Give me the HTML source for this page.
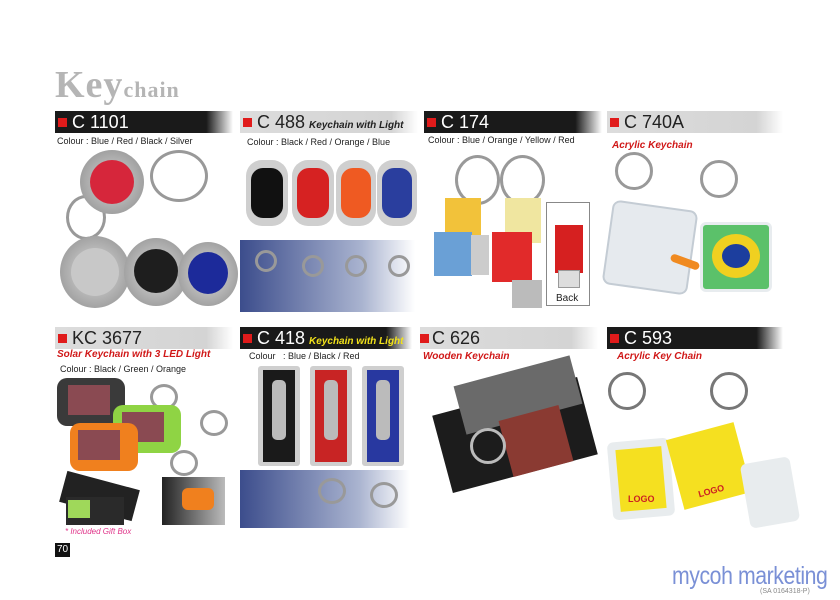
<!DOCTYPE html>
<html><head><meta charset="utf-8"><style>
*{margin:0;padding:0;box-sizing:border-box}
body{width:840px;height:600px;background:#fff;position:relative;overflow:hidden;font-family:"Liberation Sans",sans-serif}
.a{position:absolute}
.bar{position:absolute;height:22px;width:178px}
.dk{background:linear-gradient(90deg,#1a1a1a 0,#1a1a1a 85%,#fff 100%);color:#fff}
.lt{background:linear-gradient(90deg,#dcdcdc 0,#d4d4d4 85%,#fff 100%);color:#222}
.bar .sq{position:absolute;left:3px;top:7px;width:9px;height:9px;background:#e01b1b}
.bar .t{position:absolute;left:17px;top:1px;font-size:18px;white-space:nowrap}
.bar .s{font-size:10px;font-style:italic;font-weight:bold;margin-left:4px}
.col{font-size:9px;color:#222;position:absolute;white-space:nowrap}
.red{color:#d01818;font-style:italic;font-weight:bold;font-size:10px;position:absolute;white-space:nowrap}
.ring{position:absolute;border:3px solid #999;border-radius:50%}
.c{position:absolute;border-radius:50%}
.r{position:absolute;border-radius:6px}
</style></head><body>
<div class="a" style="left:55px;top:66px;font-family:'Liberation Serif',serif;font-weight:bold;color:#b5b5b5;font-size:38px;line-height:38px;letter-spacing:1px">Key<span style="font-size:22px">chain</span></div>

<!-- Row 1 bars -->
<div class="bar dk" style="left:55px;top:111px"><div class="sq"></div><div class="t">C 1101</div></div>
<div class="bar lt" style="left:240px;top:111px"><div class="sq"></div><div class="t">C 488<span class="s">Keychain with Light</span></div></div>
<div class="bar dk" style="left:424px;top:111px"><div class="sq"></div><div class="t">C 174</div></div>
<div class="bar lt" style="left:607px;top:111px;width:176px"><div class="sq"></div><div class="t">C 740A</div></div>
<div class="col" style="left:57px;top:136px">Colour : Blue / Red / Black / Silver</div>
<div class="col" style="left:247px;top:137px">Colour : Black / Red / Orange / Blue</div>
<div class="col" style="left:428px;top:135px">Colour : Blue / Orange / Yellow / Red</div>
<div class="red" style="left:612px;top:140px">Acrylic Keychain</div>

<!-- C1101 -->
<div class="ring" style="left:150px;top:150px;width:58px;height:52px"></div>
<div class="ring" style="left:66px;top:195px;width:40px;height:45px"></div>
<div class="c" style="left:80px;top:150px;width:64px;height:64px;background:radial-gradient(#d7d7d7,#8a8a8a)"></div>
<div class="c" style="left:90px;top:160px;width:44px;height:44px;background:#d6263b"></div>
<div class="c" style="left:60px;top:236px;width:70px;height:72px;background:radial-gradient(#ddd,#8a8a8a)"></div>
<div class="c" style="left:71px;top:248px;width:48px;height:48px;background:#c8c8c8"></div>
<div class="c" style="left:124px;top:238px;width:64px;height:68px;background:radial-gradient(#ddd,#8a8a8a)"></div>
<div class="c" style="left:134px;top:249px;width:44px;height:44px;background:#1e1e1e"></div>
<div class="c" style="left:178px;top:242px;width:60px;height:64px;background:radial-gradient(#ddd,#8a8a8a)"></div>
<div class="c" style="left:188px;top:252px;width:40px;height:42px;background:#1c2a9a"></div>

<!-- C488 -->
<div class="a" style="left:240px;top:240px;width:175px;height:72px;background:linear-gradient(90deg,#3c4d8c,#aab4d0 70%,#fff)"></div>
<div class="r" style="left:246px;top:160px;width:42px;height:66px;background:#cfcfcf;border-radius:16px"></div><div class="r" style="left:251px;top:168px;width:32px;height:50px;background:#111;border-radius:12px"></div>
<div class="r" style="left:292px;top:160px;width:42px;height:66px;background:#cfcfcf;border-radius:16px"></div><div class="r" style="left:297px;top:168px;width:32px;height:50px;background:#d62222;border-radius:12px"></div>
<div class="r" style="left:336px;top:160px;width:40px;height:66px;background:#cfcfcf;border-radius:16px"></div><div class="r" style="left:341px;top:168px;width:30px;height:50px;background:#ef5a22;border-radius:12px"></div>
<div class="r" style="left:377px;top:160px;width:40px;height:66px;background:#cfcfcf;border-radius:16px"></div><div class="r" style="left:382px;top:168px;width:30px;height:50px;background:#2a3e9e;border-radius:12px"></div>
<div class="ring" style="left:255px;top:250px;width:22px;height:22px"></div><div class="ring" style="left:302px;top:255px;width:22px;height:22px"></div><div class="ring" style="left:345px;top:255px;width:22px;height:22px"></div><div class="ring" style="left:388px;top:255px;width:22px;height:22px"></div>

<!-- C174 -->
<div class="ring" style="left:455px;top:155px;width:45px;height:50px"></div>
<div class="ring" style="left:500px;top:155px;width:45px;height:50px"></div>
<div class="a" style="left:445px;top:198px;width:36px;height:45px;background:#f2c23a"></div>
<div class="a" style="left:505px;top:198px;width:36px;height:45px;background:#f0e6a0"></div>
<div class="a" style="left:434px;top:232px;width:38px;height:44px;background:#6aa0d6"></div>
<div class="a" style="left:471px;top:235px;width:18px;height:40px;background:#ccc"></div>
<div class="a" style="left:492px;top:232px;width:40px;height:50px;background:#e12a2a"></div>
<div class="a" style="left:512px;top:280px;width:30px;height:28px;background:#bbb"></div>
<div class="a" style="left:546px;top:202px;width:44px;height:104px;border:1px solid #888;background:#fff"></div>
<div class="a" style="left:555px;top:225px;width:28px;height:48px;background:#d62020"></div>
<div class="a" style="left:558px;top:270px;width:22px;height:18px;background:#ddd;border:1px solid #999"></div>
<div class="a" style="left:556px;top:293px;font-size:10px;color:#222">Back</div>

<!-- C740A -->
<div class="ring" style="left:615px;top:152px;width:38px;height:38px"></div>
<div class="ring" style="left:700px;top:160px;width:38px;height:38px"></div>
<div class="a" style="left:607px;top:205px;width:86px;height:85px;background:#e6eaee;border:2px solid #c4ccd4;transform:rotate(8deg);border-radius:8px"></div>
<div class="a" style="left:700px;top:222px;width:72px;height:70px;background:#5bc16a;border:3px solid #e8ecef;border-radius:6px"></div>
<div class="c" style="left:712px;top:234px;width:48px;height:44px;background:#f0d020"></div>
<div class="c" style="left:722px;top:244px;width:28px;height:24px;background:#1c3e9e"></div>
<div class="a" style="left:670px;top:258px;width:30px;height:8px;background:#f08a20;border-radius:4px;transform:rotate(20deg)"></div>

<!-- Row 2 bars -->
<div class="bar lt" style="left:55px;top:327px"><div class="sq"></div><div class="t">KC 3677</div></div>
<div class="bar dk" style="left:240px;top:327px;width:172px"><div class="sq"></div><div class="t">C 418<span class="s" style="color:#f2e21a">Keychain with Light</span></div></div>
<div class="bar lt" style="left:420px;top:327px"><div class="sq" style="left:0"></div><div class="t" style="left:12px">C 626</div></div>
<div class="bar dk" style="left:607px;top:327px;width:176px"><div class="sq"></div><div class="t">C 593</div></div>
<div class="red" style="left:57px;top:349px">Solar Keychain with 3 LED Light</div>
<div class="col" style="left:60px;top:364px">Colour : Black / Green / Orange</div>
<div class="col" style="left:249px;top:351px">Colour &nbsp;&nbsp;: Blue / Black / Red</div>
<div class="red" style="left:423px;top:351px">Wooden Keychain</div>
<div class="red" style="left:617px;top:351px">Acrylic Key Chain</div>

<!-- KC3677 -->
<div class="r" style="left:57px;top:378px;width:68px;height:48px;background:#3a3a3a;border-radius:10px"></div><div class="a" style="left:68px;top:385px;width:42px;height:30px;background:#8a4a52"></div>
<div class="ring" style="left:150px;top:384px;width:28px;height:26px"></div>
<div class="r" style="left:113px;top:405px;width:68px;height:48px;background:#8fd444;border-radius:10px"></div><div class="a" style="left:122px;top:412px;width:42px;height:30px;background:#8a4a52"></div>
<div class="ring" style="left:200px;top:410px;width:28px;height:26px"></div>
<div class="r" style="left:70px;top:423px;width:68px;height:48px;background:#f0801e;border-radius:10px"></div><div class="a" style="left:78px;top:430px;width:42px;height:30px;background:#8a4a52"></div>
<div class="ring" style="left:170px;top:450px;width:28px;height:26px"></div>
<div class="a" style="left:62px;top:480px;width:75px;height:32px;background:#222;transform:rotate(15deg)"></div>
<div class="a" style="left:66px;top:497px;width:58px;height:28px;background:#2a2a2a"></div>
<div class="a" style="left:68px;top:500px;width:22px;height:18px;background:#9fd85a"></div>
<div class="a" style="left:162px;top:477px;width:63px;height:48px;background:linear-gradient(90deg,#222,#bbb)"></div>
<div class="r" style="left:182px;top:488px;width:32px;height:22px;background:#f0801e"></div>
<div class="a" style="left:65px;top:527px;font-size:8px;font-style:italic;color:#e0358a">* Included Gift Box</div>
<div class="a" style="left:55px;top:543px;width:15px;height:14px;background:#111;color:#fff;font-size:10px;text-align:center;line-height:14px">70</div>

<!-- C418 -->
<div class="a" style="left:240px;top:470px;width:170px;height:58px;background:linear-gradient(90deg,#3c4d8c,#aab4d0 70%,#fff)"></div>
<div class="r" style="left:258px;top:366px;width:42px;height:100px;background:#cfcfcf;border-radius:3px"></div><div class="a" style="left:263px;top:370px;width:32px;height:92px;background:#1a1a1a"></div><div class="a" style="left:272px;top:380px;width:14px;height:60px;background:#bbb;border-radius:5px"></div>
<div class="r" style="left:310px;top:366px;width:42px;height:100px;background:#cfcfcf;border-radius:3px"></div><div class="a" style="left:315px;top:370px;width:32px;height:92px;background:#c82424"></div><div class="a" style="left:324px;top:380px;width:14px;height:60px;background:#bbb;border-radius:5px"></div>
<div class="r" style="left:362px;top:366px;width:42px;height:100px;background:#cfcfcf;border-radius:3px"></div><div class="a" style="left:367px;top:370px;width:32px;height:92px;background:#2838a0"></div><div class="a" style="left:376px;top:380px;width:14px;height:60px;background:#bbb;border-radius:5px"></div>
<div class="ring" style="left:318px;top:478px;width:28px;height:26px"></div><div class="ring" style="left:370px;top:482px;width:28px;height:26px"></div>

<!-- C626 -->
<div class="a" style="left:440px;top:395px;width:150px;height:80px;background:#1c1c1c;transform:rotate(-15deg)"></div>
<div class="a" style="left:458px;top:370px;width:120px;height:50px;background:#6a6a6a;transform:rotate(-15deg)"></div>
<div class="a" style="left:505px;top:412px;width:62px;height:58px;background:#8a3a32;transform:rotate(-15deg)"></div>
<div class="ring" style="left:470px;top:428px;width:36px;height:36px;border-color:#bbb"></div>

<!-- C593 -->
<div class="ring" style="left:608px;top:372px;width:38px;height:38px;border-color:#777"></div>
<div class="ring" style="left:710px;top:372px;width:38px;height:38px;border-color:#777"></div>
<div class="a" style="left:610px;top:440px;width:62px;height:78px;background:#e8ecee;border-radius:6px;transform:rotate(-5deg)"></div>
<div class="a" style="left:618px;top:448px;width:46px;height:62px;background:#f5e020;transform:rotate(-5deg)"></div>
<div class="a" style="left:674px;top:430px;width:70px;height:72px;background:#f5e020;transform:rotate(-15deg)"></div>
<div class="a" style="left:745px;top:460px;width:50px;height:65px;background:#e8ecee;border-radius:6px;transform:rotate(-10deg)"></div>
<div class="a" style="left:628px;top:494px;font-size:9px;font-weight:bold;color:#c22">LOGO</div>
<div class="a" style="left:698px;top:486px;font-size:9px;font-weight:bold;color:#c22;transform:rotate(-15deg)">LOGO</div>

<div class="a" style="left:672px;top:562px;font-size:25px;line-height:28px;color:#7a90d6;letter-spacing:-0.5px;white-space:nowrap;transform:scaleX(0.85);transform-origin:left">mycoh marketing</div>
<div class="a" style="left:760px;top:588px;font-size:7px;color:#888;white-space:nowrap">(SA 0164318-P)</div>
</body></html>
